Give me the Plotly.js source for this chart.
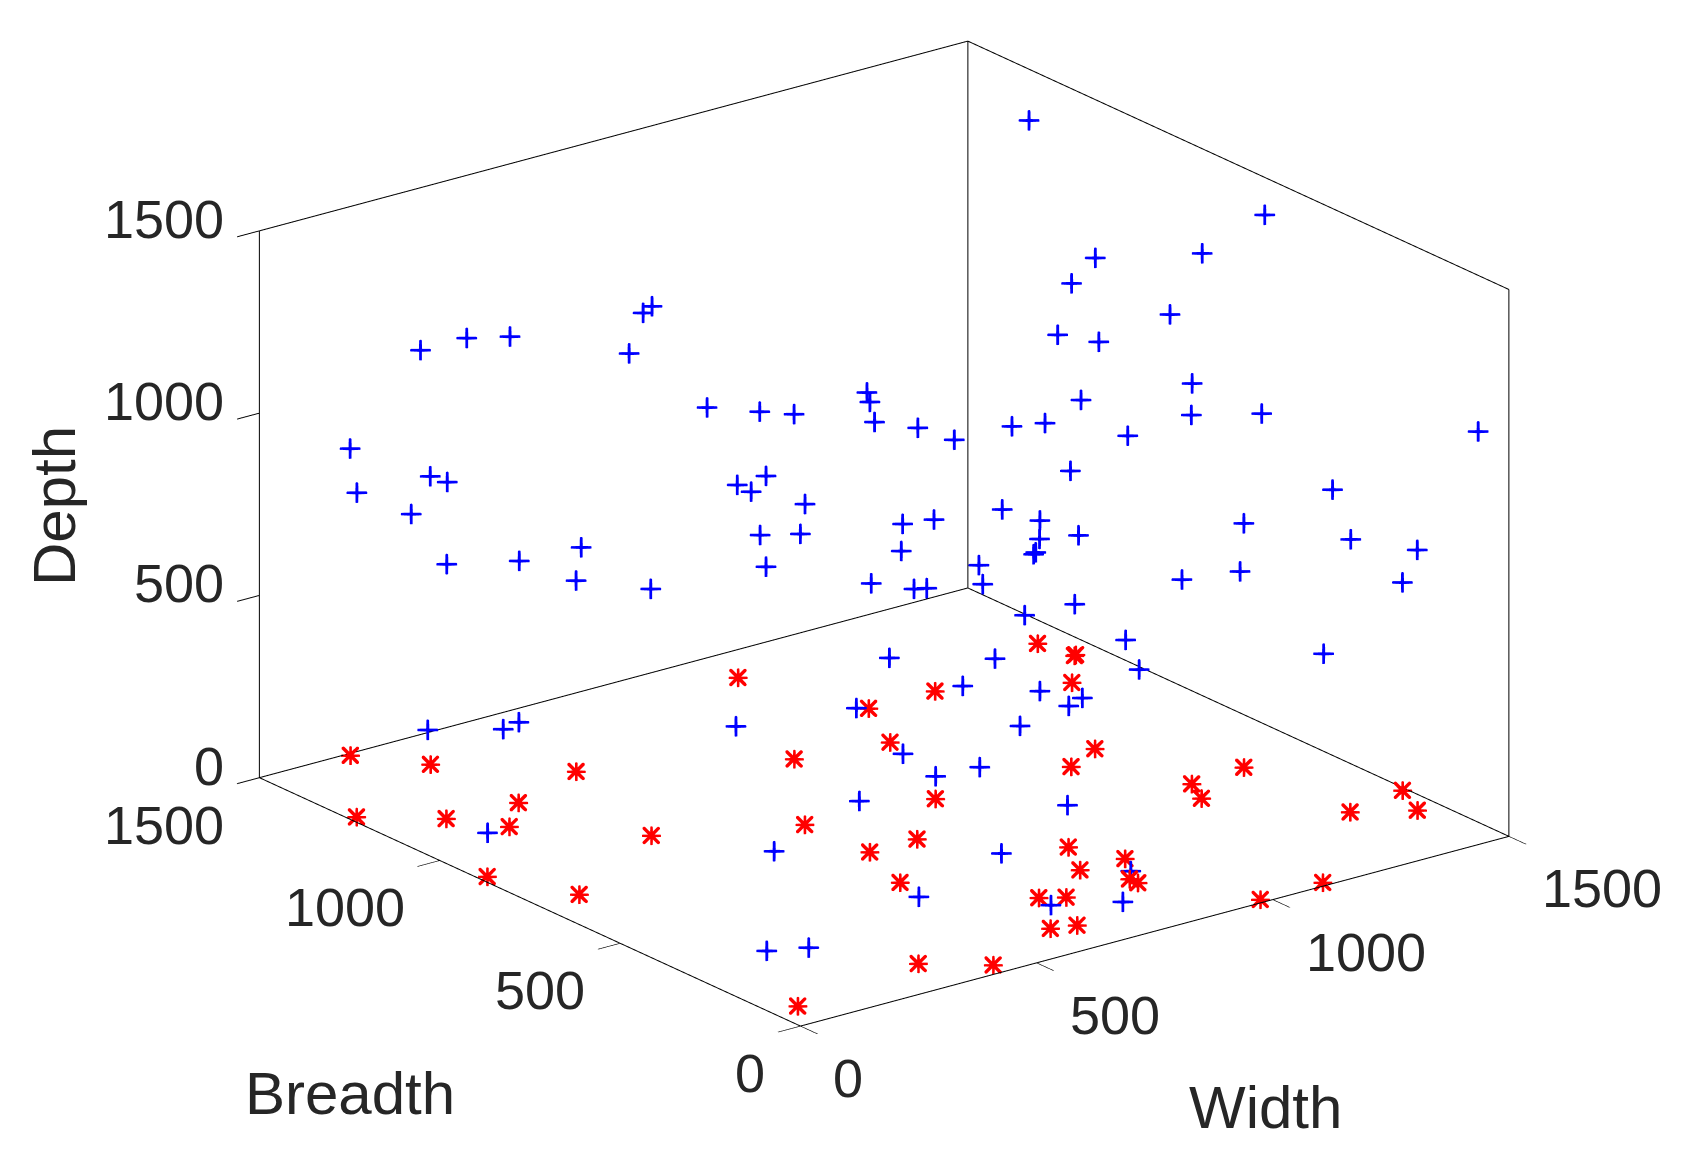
<!DOCTYPE html>
<html><head><meta charset="utf-8">
<script src="https://cdn.plot.ly/plotly-3.0.1.min.js"></script>
<style>html,body{margin:0;padding:0;background:#fff}#c{width:1689px;height:1160px}</style>
</head><body><div id="c"></div>
<script>
const blueWidth=[190,128,34,141,164,43,116,163,248,438,426,407,511,582,628,725,729,735,793,842,590,552,570,642,582,636,773,815,771,590,343,260,336,436,731,788,805,875,880,755,550,260,239,711,853,773,817,876,138,102,1003,936,1071,1089,896,956,1013,995,930,715,993,456,760,875,505,667,778,157,213,1405,1445,1262,1347,1172,1246,1096,1122,1218,1069,1159,1253,919,963,1074,997,1348,906,956,1229,956,1008,1372,1461,948,951,1146,1224,1441,1336,1470];
const blueBreadth=[1175,1222,1294,1212,1195,1287,1232,1195,1131,986,995,1009,929,876,841,766,763,758,714,677,869,899,884,829,875,834,730,698,731,869,1058,1121,1063,987,762,718,705,652,648,743,900,1122,1138,777,668,729,696,651,1215,1002,554,605,502,488,635,589,546,560,610,774,561,671,439,231,334,180,126,300,257,1207,606,836,651,784,608,723,643,510,623,435,363,618,584,500,558,291,628,589,381,590,550,272,204,596,594,444,385,219,300,47];
const blueDepth=[1289,1256,986,910,894,865,806,669,1293,1376,1358,1247,1099,1087,1080,1140,1114,1059,1043,1010,911,886,868,834,749,752,779,791,705,662,715,678,624,601,616,601,603,666,614,412,224,235,216,274,335,149,87,112,214,41,559,529,461,380,410,321,302,280,225,19,8,18,12,18,29,20,15,17,26,1450,1450,1291,1358,1276,1245,1189,1197,1110,1065,1078,1082,1047,1056,1021,925,873,819,789,781,738,748,737,708,696,701,627,649,619,423,1101];
const redWidth=[187,268,442,274,16,131,192,356,17,88,932,1432,1450,1446,1156,1364,1017,947,1202,770,1118,843,593,701,880,600,922,829,552,869,869,693,731,619,664,340,436,55,1229,1200,1347,1359,1492,1454,984,1117];
const redBreadth=[1493,1377,1201,1141,1252,1154,1059,880,891,729,1394,1218,1136,1134,1141,1034,1143,992,758,1026,714,730,765,595,410,594,308,311,447,226,203,247,221,118,103,119,37,80,525,460,535,256,285,194,14,15];
const redDepth=[0,0,0,0,0,0,0,0,0,0,0,0,0,0,0,0,0,0,0,0,0,0,0,0,0,0,0,0,0,0,0,0,0,0,0,0,0,0,0,0,0,0,0,0,0,0];
const tickValues=[0,500,1000,1500];
const tickLabels=['0','500','1000','1500'];
const axisMax=1500;
const edgeX=[0,axisMax,null,0,0,null,0,axisMax,null,axisMax,axisMax,null,0,0,null,axisMax,axisMax,null,axisMax,axisMax,null,0,axisMax,null,axisMax,axisMax];
const edgeY=[0,0,null,0,axisMax,null,axisMax,axisMax,null,axisMax,0,null,axisMax,axisMax,null,axisMax,axisMax,null,0,0,null,axisMax,axisMax,null,axisMax,0];
const edgeZ=[0,0,null,0,0,null,0,0,null,0,0,null,0,axisMax,null,0,axisMax,null,0,axisMax,null,axisMax,axisMax,null,axisMax,axisMax];
const ink='#262626';
const font={family:'Liberation Sans',size:54,color:ink};
function axis(){return {range:[0,axisMax],autorange:false,tickmode:'array',tickvals:tickValues,ticktext:tickLabels,
  showgrid:false,zeroline:false,showline:false,showbackground:false,showspikes:false,showticklabels:false,
  ticks:'outside',ticklen:28,tickwidth:2,tickcolor:'#000',title:{text:''}};}
function mark(x,y,z,sym,col,size,lw){return {type:'scatter3d',mode:'markers',x,y,z,hoverinfo:'skip',showlegend:false,
  marker:{symbol:sym,size:size,color:col,opacity:1,line:{width:lw,color:col}}};}
const traces=[
 {type:'scatter3d',mode:'lines',x:edgeX,y:edgeY,z:edgeZ,connectgaps:false,hoverinfo:'skip',showlegend:false,line:{color:'#000',width:2}},
 mark(blueWidth,blueBreadth,blueDepth,'cross','#0000ff',11,2),
 mark(redWidth,redBreadth,redDepth,'cross','#ff0000',10,1),
 mark(redWidth,redBreadth,redDepth,'x','#ff0000',4,0)
];
const sceneLabels=[];
tickValues.forEach((v,i)=>{
  sceneLabels.push({x:0,y:axisMax,z:v,text:tickLabels[i],showarrow:false,xanchor:'right',yanchor:'middle',xshift:-33,yshift:12,font});
  sceneLabels.push({x:0,y:v,z:0,text:tickLabels[i],showarrow:false,xanchor:'right',yanchor:'middle',xshift:-33,yshift:-47,font});
  sceneLabels.push({x:v,y:0,z:0,text:tickLabels[i],showarrow:false,xanchor:'left',yanchor:'middle',xshift:31,yshift:-52,font});
});
const A=1.537;
const layout={width:1689,height:1160,margin:{l:0,r:0,t:0,b:0},paper_bgcolor:'#fff',showlegend:false,
 scene:{domain:{x:[0,1],y:[0,1]},xaxis:axis(),yaxis:axis(),zaxis:axis(),annotations:sceneLabels,
  aspectmode:'manual',aspectratio:{x:A,y:A,z:0.655*A},
  camera:{projection:{type:'orthographic'},up:{x:0,y:0,z:1},center:{x:-0.0714,y:0.0192,z:-0.0749},eye:{x:-1.2082,y:-1.4692,z:0.6263}}},
 annotations:[
  {text:'Breadth',xref:'paper',yref:'paper',x:350/1689,y:1-1093/1160,xanchor:'center',yanchor:'middle',showarrow:false,font:{family:'Liberation Sans',size:60,color:ink}},
  {text:'Width',xref:'paper',yref:'paper',x:1265/1689,y:1-1107/1160,xanchor:'center',yanchor:'middle',showarrow:false,font:{family:'Liberation Sans',size:60,color:ink}},
  {text:'Depth',xref:'paper',yref:'paper',x:55/1689,y:1-506/1160,xanchor:'center',yanchor:'middle',textangle:-90,showarrow:false,font:{family:'Liberation Sans',size:60,color:ink}}
 ]};
Plotly.newPlot('c',traces,layout,{displayModeBar:false});
</script></body></html>
